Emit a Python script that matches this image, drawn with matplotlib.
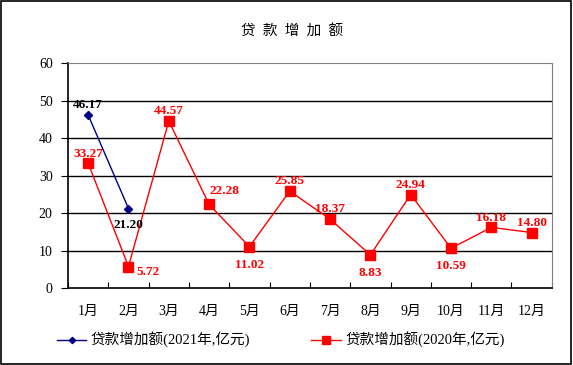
import numpy as np
import matplotlib.pyplot as plt
from matplotlib.patches import Rectangle

plt.rcParams['font.family'] = ['Liberation Serif', 'Noto Sans CJK SC']

months = ['1月', '2月', '3月', '4月', '5月', '6月', '7月', '8月', '9月', '10月', '11月', '12月']
loans_2021 = [46.17, 21.20]
loans_2020 = [33.27, 5.72, 44.57, 22.28, 11.02, 25.85, 18.37, 8.83, 24.94, 10.59, 16.18, 14.80]
label_2021 = '贷款增加额(2021年,亿元)'
label_2020 = '贷款增加额(2020年,亿元)'

# where each value label goes relative to its point (dx, dy in points)
offsets_2021 = [(0, 7), (0, -12)]
offsets_2020 = [(0, 7), (14, -4), (0, 7), (11, 10), (0, -13), (0, 7),
                (0, 7), (0, -13), (0, 7), (0, -13), (0, 7), (0, 7)]

fig = plt.figure(figsize=(5.73, 3.65), dpi=100)
fig.patches.append(Rectangle((0.002, 0.003), 0.995, 0.994, transform=fig.transFigure,
                             fill=False, edgecolor='black', linewidth=1.2))
ax = fig.add_axes([0.1187, 0.211, 0.8443, 0.616])

x = np.arange(len(months))
ax.plot(x[:len(loans_2021)], loans_2021, color='#000080', marker='D', markersize=4,
        linewidth=1, label=label_2021, zorder=4)
ax.plot(x, loans_2020, color='#FF0000', marker='s', markersize=6.5,
        linewidth=1, label=label_2020, zorder=3)

for xi, v, off in zip(x, loans_2021, offsets_2021):
    ax.annotate(f'{v:.2f}', (xi, v), xytext=off, textcoords='offset points',
                ha='center', va='center', fontsize=9.5, fontweight='bold', color='black')
for xi, v, off in zip(x, loans_2020, offsets_2020):
    ax.annotate(f'{v:.2f}', (xi, v), xytext=off, textcoords='offset points',
                ha='center', va='center', fontsize=9.5, fontweight='bold', color='#FF0000')

ax.set_xlim(-0.5, len(months) - 0.5)
ax.set_ylim(0, 60)
ax.set_yticks(range(0, 61, 10))
ax.set_xticks(x)
ax.set_xticklabels(months, fontsize=10)
ax.set_xticks(np.arange(-0.5, len(months)), minor=True)
ax.tick_params(axis='x', which='major', length=0, pad=12)
ax.tick_params(axis='x', which='minor', direction='in', length=4, width=0.8)
ax.tick_params(axis='y', direction='out', length=5, width=0.8, labelsize=10, pad=6)
for yv in range(10, 51, 10):
    ax.axhline(yv, color='black', linewidth=1, zorder=1)
ax.spines['left'].set_linewidth(1.2)
ax.spines['bottom'].set_linewidth(1.2)
ax.spines['top'].set_color('#808080')
ax.spines['right'].set_color('#808080')

fig.text(0.509, 0.912, '贷  款  增  加  额', ha='center', va='center', fontsize=10.5)

fig.legend(loc='center', bbox_to_anchor=(0.49, 0.068), ncol=2, frameon=False,
           fontsize=10.5, columnspacing=4.2, handlelength=2.0, handletextpad=0.3,
           markerscale=0.8)

fig.savefig('out.png', dpi=100)
